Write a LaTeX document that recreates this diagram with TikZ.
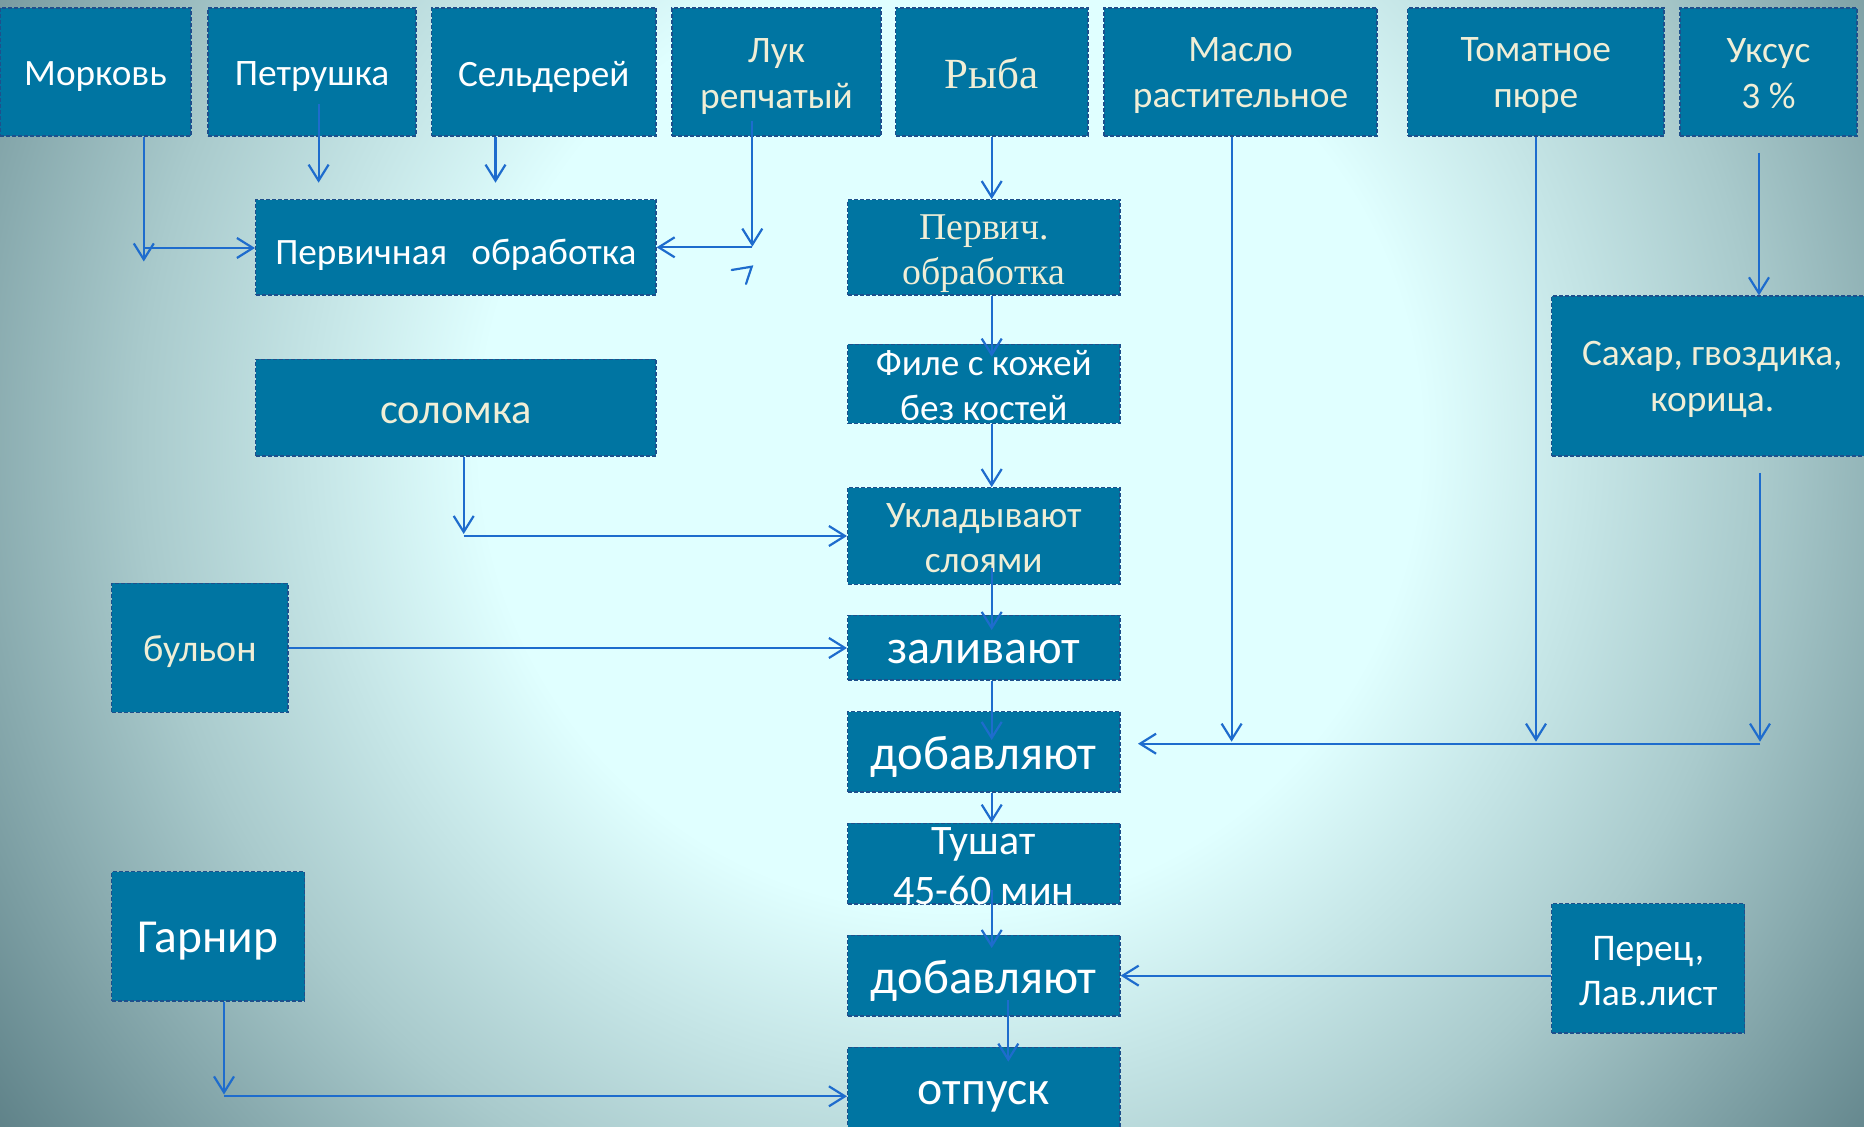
\documentclass[tikz,border=0pt]{standalone}
\usepackage{fontspec}
\setmainfont{Carlito}
\newfontfamily\tnrfont{Liberation Serif}
\usetikzlibrary{arrows.meta}
\definecolor{bgcyan}{RGB}{224,255,255}
\definecolor{bgmid}{RGB}{169,202,204}
\definecolor{bgdark}{RGB}{90,125,132}
\definecolor{boxfill}{RGB}{0,117,162}
\definecolor{boxline}{RGB}{30,80,140}
\definecolor{arrcol}{RGB}{30,108,205}
\definecolor{cream}{RGB}{240,238,214}
\pgfdeclareradialshading{bgshade}{\pgfpoint{0bp}{0bp}}{color(0bp)=(bgcyan); color(9.8bp)=(bgcyan); color(16.9bp)=(bgmid); color(25bp)=(bgdark); color(50bp)=(bgdark)}
\newcommand\fsz[2]{\fontsize{#1}{#2}\selectfont}
\newcommand\mkbox[7]{\node[box,minimum width={(#4-#2)*0.5pt},minimum height={(#5-#3)*0.5pt},label={[lbl,#6]center:{#7}}] (#1) at ({(#2+#4)/2},{(#3+#5)/2}) {};}
\begin{document}
\begin{tikzpicture}[x=0.5pt,y=-0.5pt,
  box/.style={rectangle, fill=boxfill, draw=boxline, line width=0.6pt, dash pattern=on 2pt off 1pt, inner sep=0pt},
  lbl/.style={text=white, align=center, inner sep=0pt},
  crm/.style={text=cream},
  arr/.style={draw=arrcol, line width=1.1pt, -{Straight Barb[length=8pt,width=10pt]}}]
\useasboundingbox (0,0) rectangle (1864,1127);
\fill[bgdark] (0,0) rectangle (1864,1127);
\begin{scope}
\clip (0,0) rectangle (1864,1127);
\shade[shading=bgshade] (950,440) circle[radius=1200];
\end{scope}

% top row
\mkbox{mork}{0}{8}{191}{136}{font=\fsz{18.6}{22},yshift=-2.4pt}{Морковь}
\mkbox{petr}{208}{8}{416}{136}{font=\fsz{18.7}{22},yshift=-2.4pt}{Петрушка}
\mkbox{seld}{431.5}{8}{656}{136}{font=\fsz{18.6}{22},yshift=-2.4pt}{Сельдерей}
\mkbox{luk}{672}{8}{881}{136}{crm,font=\fsz{18.7}{23},yshift=-2.1pt}{Лук\\репчатый}
\mkbox{ryba}{895.7}{8}{1088}{136}{crm,font=\tnrfont\fsz{21.5}{26},yshift=-0.6pt}{Рыба}
\mkbox{maslo}{1104}{8}{1377}{136}{crm,font=\fsz{18.7}{23},yshift=-1.8pt}{Масло\\растительное}
\mkbox{tom}{1407.5}{8}{1664}{136}{crm,font=\fsz{18.7}{23},yshift=-1.8pt}{Томатное\\пюре}
\mkbox{uks}{1680}{8}{1857}{136}{crm,font=\fsz{18.7}{23},yshift=-0.8pt}{Уксус\\3 \%}

% second row and below
\mkbox{perv1}{255.6}{199.7}{656}{295}{font=\fsz{18.6}{22},yshift=-3.6pt}{Первичная\hspace{0.65em}обработка}
\mkbox{perv2}{847.6}{199.7}{1120}{295}{crm,font=\tnrfont\fsz{18.9}{22.5},yshift=-3pt}{Первич.\\обработка}
\mkbox{sah}{1551.5}{296}{1873}{456}{crm,font=\fsz{18.7}{22.8},yshift=-1.8pt}{Сахар, гвоздика,\\корица.}
\mkbox{solo}{255.6}{359.5}{656}{456}{crm,font=\fsz{21.2}{25},yshift=-3pt}{соломка}
\mkbox{file}{847.6}{344.5}{1120}{423.5}{font=\fsz{18.6}{22.5},yshift=-0.6pt}{Филе с кожей\\без костей}
\mkbox{ukl}{847.6}{487.7}{1120}{584.3}{crm,font=\fsz{18.7}{22.5},yshift=-0.9pt}{Укладывают\\слоями}
\mkbox{bul}{111.6}{583.5}{288}{712.5}{crm,font=\fsz{19}{22},yshift=-1.8pt}{бульон}
\mkbox{zal}{847.6}{615.3}{1120}{680}{font=\fsz{24}{28},yshift=-2.4pt}{заливают}
\mkbox{dob1}{847.6}{711.7}{1120}{792}{font=\fsz{24.3}{28},yshift=-2.4pt}{добавляют}
\mkbox{tush}{847.6}{823.3}{1120}{904}{font=\fsz{21}{25},yshift=-1.2pt}{Тушат\\45-60 мин}
\mkbox{garn}{111.6}{871.8}{304.5}{1001}{font=\fsz{23.7}{27},yshift=-2.4pt}{Гарнир}
\mkbox{dob2}{847.6}{935.3}{1120}{1016}{font=\fsz{24.3}{28},yshift=-2.4pt}{добавляют}
\mkbox{perec}{1551.7}{903.7}{1744.7}{1033}{font=\fsz{18.8}{22.4},yshift=-1.5pt}{Перец,\\Лав.лист}
\mkbox{otp}{847.6}{1047.3}{1120}{1137}{font=\fsz{23.9}{28},yshift=-2.4pt}{отпуск}

% connectors
\coordinate (mT) at (143.8,261.5);
\draw[arr] (mork.south -| mT) -- (mT);
\coordinate (mH) at (143.8,248);
\draw[arr] (mH) -- (perv1.west |- mH);
\coordinate (pS) at (318.6,104);
\coordinate (pT) at (318.6,182.7);
\draw[arr] (pS) -- (pT);
\coordinate (sT) at (495.5,182.7);
\draw[arr] (seld.south -| sT) -- (sT);
\coordinate (lS) at (752.3,120.7);
\coordinate (lT) at (752.3,246.7);
\draw[arr] (lS) -- (lT);
\coordinate (lH) at (752.3,247.3);
\draw[arr] (lH) -- (perv1.east |- lH);
\draw[arrcol, line width=1.1pt, line cap=round] (731.7,270) -- (751.7,266.7) -- (746,284);

\coordinate (xC) at (991.7,0);
\draw[arr] (ryba.south -| xC) -- (perv2.north -| xC);
\coordinate (fT) at (991.7,356.7);
\draw[arr] (perv2.south -| xC) -- (fT);
\draw[arr] (file.south -| xC) -- (ukl.north -| xC);
\coordinate (uS) at (991.7,568);
\coordinate (uT) at (991.7,630);
\draw[arr] (uS) -- (uT);
\coordinate (zT) at (991.7,740);
\draw[arr] (zal.south -| xC) -- (zT);
\draw[arr] (dob1.south -| xC) -- (tush.north -| xC);
\coordinate (tS) at (991.7,890);
\coordinate (tT) at (991.7,948);
\draw[arr] (tS) -- (tT);
\coordinate (dS) at (1008.3,1000);
\coordinate (dT) at (1008.3,1061.7);
\draw[arr] (dS) -- (dT);

\coordinate (soT) at (463.7,534);
\draw[arr] (solo.south -| soT) -- (soT);
\coordinate (soH) at (463.7,536);
\draw[arr] (soH) -- (ukl.west);
\draw[arr] (bul.east) -- (zal.west |- bul.east);
\coordinate (gT) at (224,1094.5);
\draw[arr] (garn.south -| gT) -- (gT);
\coordinate (gH) at (224,1096.3);
\draw[arr] (gH) -- (otp.west |- gH);

\coordinate (maT) at (1231.6,741.7);
\draw[arr] (maslo.south -| maT) -- (maT);
\coordinate (toT) at (1536,741.7);
\draw[arr] (tom.south -| toT) -- (toT);
\coordinate (saS) at (1760,473);
\coordinate (saT) at (1760,741.7);
\draw[arr] (saS) -- (saT);
\coordinate (hR) at (1760,743.7);
\coordinate (hL) at (1138,743.7);
\draw[arr] (hR) -- (hL);
\coordinate (ukS) at (1759,152.7);
\draw[arr] (ukS) -- (sah.north -| ukS);
\draw[arr] (perec.west |- dob2.east) -- (dob2.east);
\end{tikzpicture}
\end{document}
